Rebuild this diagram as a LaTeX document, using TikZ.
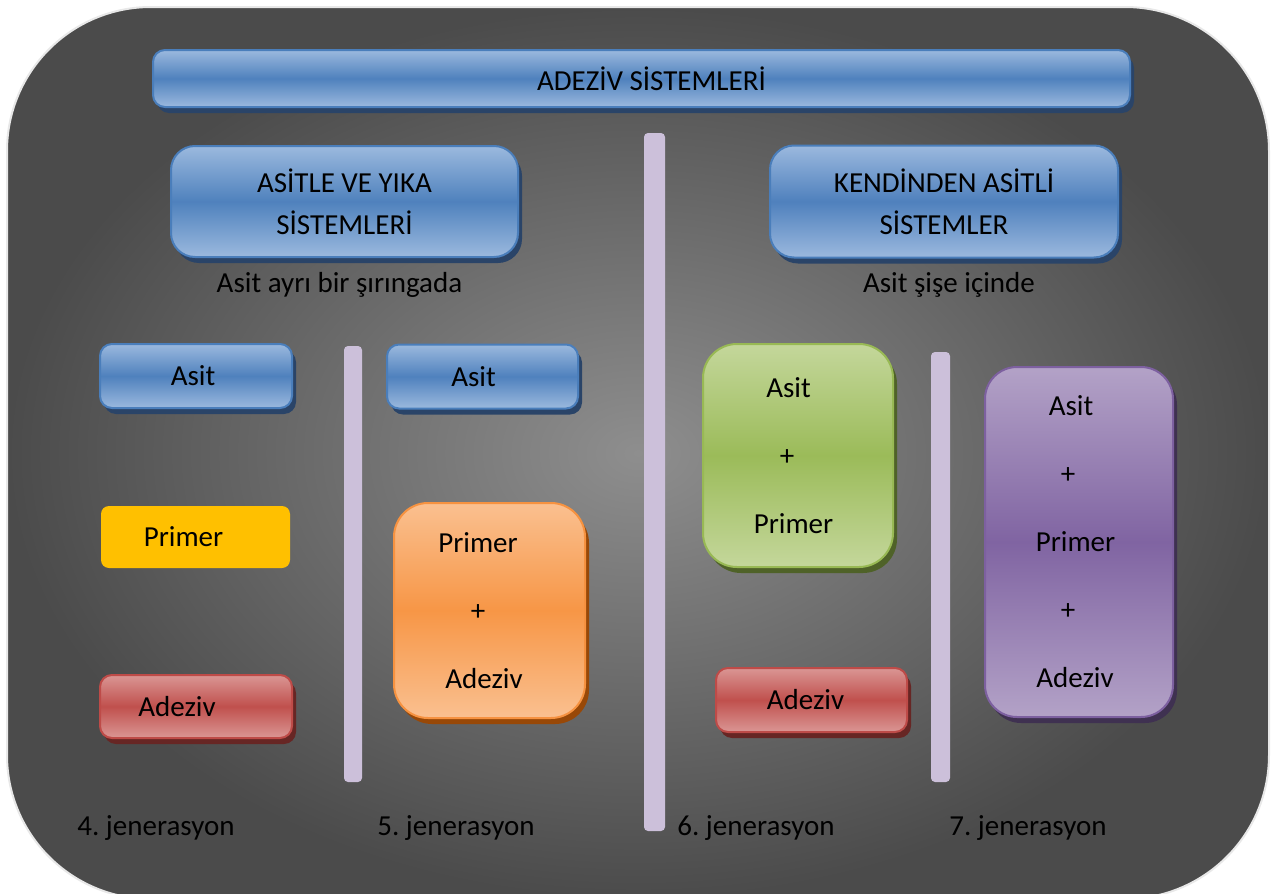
\documentclass[tikz,border=0pt]{standalone}
\usepackage{fontspec}
\setmainfont{Carlito}
\usetikzlibrary{shadows}
\frenchspacing
\definecolor{bluelt}{HTML}{9BB9DE}
\definecolor{bluemd}{HTML}{4F81BD}
\definecolor{blueln}{HTML}{4A7EBB}
\definecolor{bluesh}{HTML}{2A4468}
\definecolor{redlt}{HTML}{DA9694}
\definecolor{redmd}{HTML}{C0504D}
\definecolor{redln}{HTML}{BE4B48}
\definecolor{redsh}{HTML}{672624}
\definecolor{orglt}{HTML}{FAC090}
\definecolor{orgmd}{HTML}{F79646}
\definecolor{orgln}{HTML}{F69240}
\definecolor{orgsh}{HTML}{984807}
\definecolor{grnlt}{HTML}{C4D79B}
\definecolor{grnmd}{HTML}{9BBB59}
\definecolor{grnln}{HTML}{98B954}
\definecolor{grnsh}{HTML}{4F6228}
\definecolor{purlt}{HTML}{B3A2C7}
\definecolor{purmd}{HTML}{8064A2}
\definecolor{purln}{HTML}{7D60A0}
\definecolor{pursh}{HTML}{3F3151}
\definecolor{yel}{HTML}{FFC000}
\definecolor{barcol}{HTML}{CCC0DA}
\definecolor{bgin}{HTML}{8E8E8E}
\definecolor{bgout}{HTML}{4B4B4B}
\definecolor{bgline}{HTML}{E8E8E8}
\newcommand\myshift[1]{\hspace*{#1pt}}
\begin{document}
\frenchspacing
\begin{tikzpicture}[x=0.5pt,y=-0.5pt,
  every node/.style={font=\fontsize{14.5}{21}\selectfont\frenchspacing, text=black, inner sep=0pt, align=center},
  glossy/.style n args={4}{line width=1pt, draw=#3, top color=#1, bottom color=#1, middle color=#2,
     general shadow={fill=#4, shadow xshift=2pt, shadow yshift=-3pt}},
  bluebox/.style={glossy={bluelt}{bluemd}{blueln}{bluesh}},
  redbox/.style={glossy={redlt}{redmd}{redln}{redsh}},
  orangebox/.style={glossy={orglt}{orgmd}{orgln}{orgsh}},
  greenbox/.style={glossy={grnlt}{grnmd}{grnln}{grnsh}},
  purplebox/.style={glossy={purlt}{purmd}{purln}{pursh}},
  yellowbox/.style={fill=yel},
  tall/.style={font=\fontsize{14.5}{34}\selectfont},
  caption/.style={anchor=base},
  sepbar/.style={fill=barcol, rounded corners=2pt}
]
\useasboundingbox (0,0) rectangle (1276,894);
\clip (0,0) rectangle (1276,894);
\fill[white] (0,0) rectangle (1276,894);
\shadedraw[inner color=bgin, outer color=bgout, draw=bgline, line width=1pt, rounded corners=72pt]
  (7,7) rectangle (1269,899);

% separator bars
\fill[sepbar] (644,133) rectangle (665,831);
\fill[sepbar] (344,346) rectangle (362,782);
\fill[sepbar] (931,352) rectangle (950,782);

% header
\node[bluebox, rounded corners=6pt, minimum width=488.5pt, minimum height=28.5pt] (head) at (641.5,78.5)
  {\myshift{10}ADEZİV SİSTEMLERİ};

% category boxes
\node[bluebox, rounded corners=12pt, minimum width=173.5pt, minimum height=55.5pt] (ayika) at (344.5,201.5)
  {ASİTLE VE YIKA\\SİSTEMLERİ};
\node[bluebox, rounded corners=12pt, minimum width=174pt, minimum height=56pt] (kend) at (944,201.5)
  {KENDİNDEN ASİTLİ\\SİSTEMLER};

\node[caption] (cap1) at (339.5,292) {Asit ayrı bir şırıngada};
\node[caption] (cap2) at (949,292) {Asit şişe içinde};

% 4. generation
\node[bluebox, rounded corners=6pt, minimum width=96pt, minimum height=32pt] (asit1) at (196,376)
  {\myshift{-3}Asit};
\node[yellowbox, rounded corners=4pt, minimum width=94.5pt, minimum height=31pt] (prim1) at (195.5,537)
  {\myshift{-12}Primer};
\node[redbox, rounded corners=6pt, minimum width=96pt, minimum height=31.5pt] (adez1) at (196,706.5)
  {\myshift{-19}Adeziv};

% 5. generation
\node[bluebox, rounded corners=6pt, minimum width=95.5pt, minimum height=32pt] (asit2) at (482.5,376.5)
  {\myshift{-9}Asit};
\node[orangebox, tall, rounded corners=17pt, minimum width=95.5pt, minimum height=107.5pt] (pa5) at (489.5,610.5)
  {\myshift{-11.5}Primer\\\myshift{-11.5}+\\\myshift{-5.5}Adeziv};

% 6. generation
\node[greenbox, tall, rounded corners=17pt, minimum width=95pt, minimum height=111.5pt] (ap6) at (798,455.5)
  {\myshift{-9.5}Asit\\\myshift{-11}+\\\myshift{-4.5}Primer};
\node[redbox, rounded corners=6pt, minimum width=95.5pt, minimum height=32pt] (adez2) at (811.5,700)
  {\myshift{-6}Adeziv};

% 7. generation
\node[purplebox, tall, rounded corners=16pt, minimum width=94pt, minimum height=175pt] (apa7) at (1079,542)
  {\myshift{-8}Asit\\\myshift{-11}+\\\myshift{-3.5}Primer\\\myshift{-11}+\\\myshift{-4}Adeziv};

% generation labels
\node[caption] (g4) at (156,835) {4. jenerasyon};
\node[caption] (g5) at (456,835) {5. jenerasyon};
\node[caption] (g6) at (756,835) {6. jenerasyon};
\node[caption] (g7) at (1028,835) {7. jenerasyon};
\end{tikzpicture}
\end{document}
